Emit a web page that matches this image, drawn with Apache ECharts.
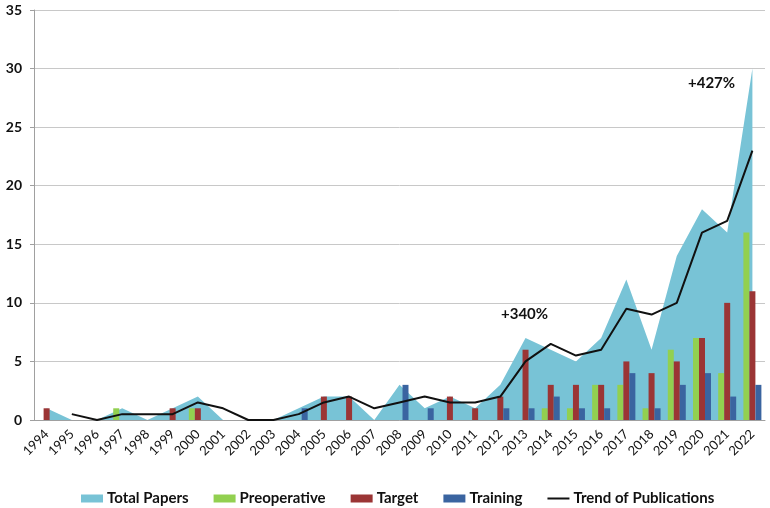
<!DOCTYPE html>
<html><head><meta charset="utf-8">
<script src="https://cdn.jsdelivr.net/npm/echarts@6/dist/echarts.min.js"></script>
<style>html,body{margin:0;padding:0;background:#fff}#c{width:770px;height:508px}</style>
</head><body><div id="c"></div>
<script>
const years = ['1994','1995','1996','1997','1998','1999','2000','2001','2002','2003','2004','2005','2006','2007','2008','2009','2010','2011','2012','2013','2014','2015','2016','2017','2018','2019','2020','2021','2022'];
const totalPapers = [1,0,0,1,0,1,2,0,0,0,1,2,2,0,3,1,2,1,3,7,6,5,7,12,6,14,18,16,30];
const preoperative = [0,0,0,1,0,0,1,0,0,0,0,0,0,0,0,0,0,0,0,0,1,1,3,3,1,6,7,4,16];
const target = [1,0,0,0,0,1,1,0,0,0,0,2,2,0,0,0,2,1,2,6,3,3,3,5,4,5,7,10,11];
const training = [0,0,0,0,0,0,0,0,0,0,1,0,0,0,3,1,0,0,1,1,2,1,1,4,1,3,4,2,3];
const trend = ['-',0.5,0,0.5,0.5,0.5,1.5,1,0,0,0.5,1.5,2,1,1.5,2,1.5,1.5,2,5,6.5,5.5,6,9.5,9,10,16,17,23];
const yTicks = [0,5,10,15,20,25,30,35];
const annotations = [{text:'+340%'},{text:'+427%'}];

const font = 'Lato, "Open Sans", sans-serif';
const chart = echarts.init(document.getElementById('c'));
const z = v => v === 0 ? '-' : v;
chart.setOption({
  animation: false,
  textStyle: {fontFamily: font},
  grid: {left: 34, right: 5, top: 10, bottom: 88},
  legend: {
    left: 76, top: 486, itemWidth: 22, itemHeight: 8, itemGap: 25,
    textStyle: {fontFamily: font, fontSize: 15, color: '#111', fontWeight: 'bold', padding: [0,0,0,-1]},
    data: [
      {name: 'Total Papers', icon: 'rect'},
      {name: 'Preoperative', icon: 'rect'},
      {name: 'Target', icon: 'rect'},
      {name: 'Training', icon: 'rect'},
      {name: 'Trend of Publications', icon: 'path://M0,0 L22,0 L22,2 L0,2 Z', itemStyle: {color: '#111'}}
    ]
  },
  xAxis: {
    type: 'category', data: years, boundaryGap: true,
    axisLine: {lineStyle: {color: '#a0a0a0'}},
    axisTick: {lineStyle: {color: '#a0a0a0'}, length: 5},
    axisLabel: {rotate: 45, fontSize: 13, color: '#111', margin: 12, fontFamily: font}
  },
  yAxis: {
    type: 'value', min: yTicks[0], max: yTicks[yTicks.length-1], interval: 5,
    axisLine: {show: true, lineStyle: {color: '#a0a0a0'}},
    axisTick: {show: true, length: 4, lineStyle: {color: '#a0a0a0'}},
    axisLabel: {fontSize: 14, fontWeight: 'bold', color: '#111', margin: 12, fontFamily: font},
    splitLine: {lineStyle: {color: '#c8c8c8'}}
  },
  series: [
    {name: 'Total Papers', type: 'line', data: totalPapers, symbol: 'none',
     lineStyle: {width: 0, color: '#78c3d6'}, itemStyle: {color: '#78c3d6'},
     areaStyle: {color: '#78c3d6', opacity: 1}, z: 1},
    {name: 'Preoperative', type: 'bar', data: preoperative.map(z), barWidth: 6, barGap: '0%',
     itemStyle: {color: '#92d050'}, z: 2},
    {name: 'Target', type: 'bar', data: target.map(z), barWidth: 6, barGap: '0%',
     itemStyle: {color: '#9b3535'}, z: 2},
    {name: 'Training', type: 'bar', data: training.map(z), barWidth: 6, barGap: '0%',
     itemStyle: {color: '#3a64a0'}, z: 2},
    {name: 'Trend of Publications', type: 'line', data: trend, symbol: 'none',
     lineStyle: {width: 2, color: '#111'}, itemStyle: {color: '#111'}, z: 3}
  ],
  graphic: [
    {type: 'text', left: 501, top: 307, style: {text: annotations[0].text, font: 'bold 15px ' + font, fill: '#111'}},
    {type: 'text', left: 688, top: 76, style: {text: annotations[1].text, font: 'bold 15px ' + font, fill: '#111'}}
  ]
});
</script></body></html>
